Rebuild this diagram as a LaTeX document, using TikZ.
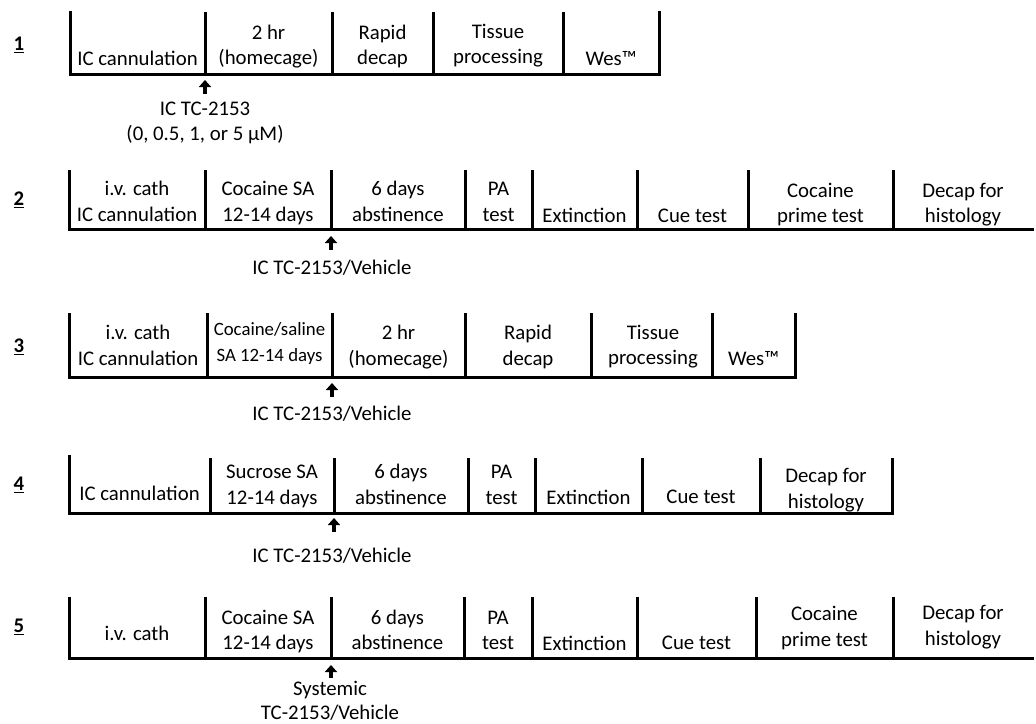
\documentclass[tikz,border=0pt]{standalone}
\usepackage{fontspec}
\setmainfont{Carlito}
\usetikzlibrary{arrows.meta}
\tikzset{
  cell/.style={font=\fontsize{20.8}{25.5}\selectfont, align=center, inner sep=0pt, text=black},
  small/.style={font=\fontsize{18.8}{25.5}\selectfont, align=center, inner sep=0pt, text=black},
  num/.style={font=\fontsize{20.8}{25.5}\selectfont\bfseries, inner sep=0pt},
  rule/.style={line width=3pt, black, line join=miter},
  uparrow/.style={line width=3.6pt, -{Triangle[width=12pt,length=7pt]}},
}
\newcommand{\ul}[1]{\underline{#1}}
\begin{document}
\begin{tikzpicture}[x=1pt,y=-1pt]
\useasboundingbox (0,0) rectangle (1036,723);

% ---------------- Row 1 ----------------
\node[num] (n1) at (19,45) {\ul{1}};
\draw[rule] (70,11) -- (70,74) -- (659,74) -- (659,11);
\foreach \x in {205,332,433,563} \draw[rule] (\x,12) -- (\x,74);
\node[cell] (r1c1) at (137.5,60) {IC cannulation\strut};
\node[cell] (r1c2) at (268.5,47) {2 hr\strut\\(homecage)\strut};
\node[cell] (r1c3) at (382.5,47) {Rapid\strut\\decap\strut};
\node[cell] (r1c4) at (498,46) {Tissue\strut\\processing\strut};
\node[cell] (r1c5) at (611,60) {Wes™\strut};
\coordinate (a1s) at (205,94);
\coordinate (a1e) at (205,80);
\draw[uparrow] (a1s) -- (a1e);
\node[cell] (l1) at (205,123) {IC TC-2153\strut\\(0, 0.5, 1, or 5 µM)\strut};

% ---------------- Row 2 ----------------
\node[num] (n2) at (19,200) {\ul{2}};
\draw[rule] (69,170) -- (69,229) -- (1034,229);
\foreach \x in {205,331,465,532,637,748,893} \draw[rule] (\x,170) -- (\x,229);
\node[cell] (r2c1) at (137,203.5) {i.v. cath\strut\\IC cannulation\strut};
\node[cell] (r2c2) at (268,203.5) {Cocaine SA\strut\\12-14 days\strut};
\node[cell] (r2c3) at (398,203.5) {6 days\strut\\abstinence\strut};
\node[cell] (r2c4) at (498.5,203.5) {PA\strut\\test\strut};
\node[cell] (r2c5) at (584.5,217) {Extinction\strut};
\node[cell] (r2c6) at (692.5,217) {Cue test\strut};
\node[cell] (r2c7) at (820.5,205) {Cocaine\strut\\prime test\strut};
\node[cell] (r2c8) at (963,205) {Decap for\strut\\histology\strut};
\coordinate (a2s) at (331,250);
\coordinate (a2e) at (331,236);
\draw[uparrow] (a2s) -- (a2e);
\node[cell] (l2) at (332,269) {IC TC-2153/Vehicle\strut};

% ---------------- Row 3 ----------------
\node[num] (n3) at (19,347) {\ul{3}};
\draw[rule] (69,313) -- (69,377) -- (795,377) -- (795,313);
\foreach \x in {207,332,465,591,712} \draw[rule] (\x,313) -- (\x,377);
\node[cell] (r3c1) at (138,347.5) {i.v. cath\strut\\IC cannulation\strut};
\node[small] (r3c2) at (269.5,343.5) {Cocaine/saline\strut\\SA 12-14 days\strut};
\node[cell] (r3c3) at (398.5,347.5) {2 hr\strut\\(homecage)\strut};
\node[cell] (r3c4) at (528,347.5) {Rapid\strut\\decap\strut};
\node[cell] (r3c5) at (653,347) {Tissue\strut\\processing\strut};
\node[cell] (r3c6) at (753.5,360) {Wes™\strut};
\coordinate (a3s) at (332,397);
\coordinate (a3e) at (332,383);
\draw[uparrow] (a3s) -- (a3e);
\node[cell] (l3) at (332,415) {IC TC-2153/Vehicle\strut};

% ---------------- Row 4 ----------------
\node[num] (n4) at (19,485) {\ul{4}};
\draw[rule] (69,455) -- (69,513) -- (892,513) -- (892,458);
\foreach \x in {210,334,468,535,642,760} \draw[rule] (\x,458) -- (\x,513);
\node[cell] (r4c1) at (139.5,495) {IC cannulation\strut};
\node[cell] (r4c2) at (272,486.5) {Sucrose SA\strut\\12-14 days\strut};
\node[cell] (r4c3) at (401,486.5) {6 days\strut\\abstinence\strut};
\node[cell] (r4c4) at (501.5,486.5) {PA\strut\\test\strut};
\node[cell] (r4c5) at (588.5,499) {Extinction\strut};
\node[cell] (r4c6) at (701,498) {Cue test\strut};
\node[cell] (r4c7) at (826,490.5) {Decap for\strut\\histology\strut};
\coordinate (a4s) at (334,532);
\coordinate (a4e) at (334,518);
\draw[uparrow] (a4s) -- (a4e);
\node[cell] (l4) at (332,557) {IC TC-2153/Vehicle\strut};

% ---------------- Row 5 ----------------
\node[num] (n5) at (19,627) {\ul{5}};
\draw[rule] (69,597) -- (69,658) -- (1034,658);
\foreach \x in {205,331,464,532,637,756,893} \draw[rule] (\x,597) -- (\x,658);
\node[cell] (r5c1) at (137,635) {i.v. cath\strut};
\node[cell] (r5c2) at (268,632) {Cocaine SA\strut\\12-14 days\strut};
\node[cell] (r5c3) at (397.5,632) {6 days\strut\\abstinence\strut};
\node[cell] (r5c4) at (498,632) {PA\strut\\test\strut};
\node[cell] (r5c5) at (584.5,645) {Extinction\strut};
\node[cell] (r5c6) at (696.5,644) {Cue test\strut};
\node[cell] (r5c7) at (824.5,628.5) {Cocaine\strut\\prime test\strut};
\node[cell] (r5c8) at (963,627.5) {Decap for\strut\\histology\strut};
\coordinate (a5s) at (331,678);
\coordinate (a5e) at (331,665);
\draw[uparrow] (a5s) -- (a5e);
\node[cell, font=\fontsize{20.8}{24}\selectfont] (l5) at (330,701) {Systemic\\TC-2153/Vehicle};
\end{tikzpicture}
\end{document}
